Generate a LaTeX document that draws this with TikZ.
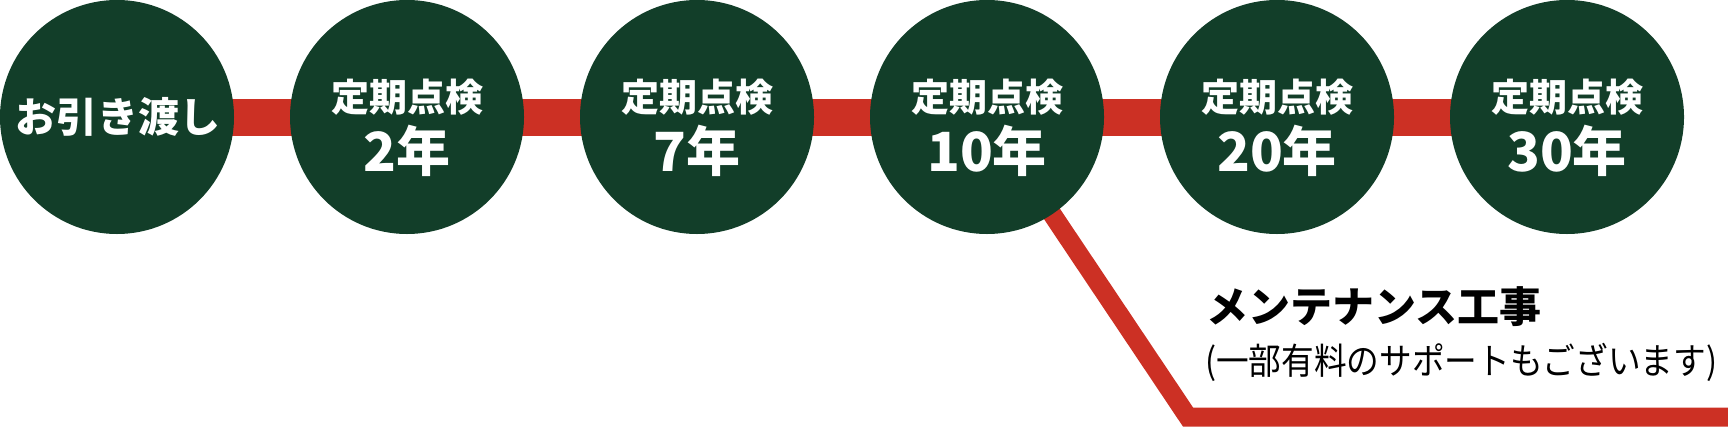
\documentclass[tikz,border=0pt]{standalone}
\usepackage{fontspec}
\setmainfont{Noto Sans CJK JP}
\newfontfamily\narrowjp[FakeStretch=0.9]{Noto Sans CJK JP}
\usetikzlibrary{backgrounds}

\definecolor{plate}{RGB}{18,62,41}
\definecolor{rail}{RGB}{204,48,36}

\tikzset{
    stop/.style={circle,fill=plate,inner sep=0pt,minimum size=234pt},
    head/.style={text=white,inner sep=0pt,font=\bfseries\fontsize{38}{40}\selectfont},
    year/.style={text=white,inner sep=0pt,font=\bfseries\fontsize{54}{58}\selectfont},
    note/.style={anchor=west,inner sep=0pt}
}

\begin{document}
\begin{tikzpicture}[x=1pt,y=-1pt]

\useasboundingbox (0,0) rectangle (1728,426);

% First stop: hand over.
\node[stop] (c0) at (117,117) {};
\node[head,font=\bfseries\fontsize{41}{44}\selectfont] (t0) at (118,117) {お引き渡し};

% Loop for each inspection stop.
\foreach \i/\x/\yr in {1/407/2,2/697/7,3/987/10,4/1277/20,5/1567/30} {

    % Draw each circle.
    \node[stop] (c\i) at (\x,117) {};

    % Two lines of text inside. End loop.
    \node[head] (h\i) at (\x,97) {定期点検};
    \node[year] (y\i) at (\x,151) {\yr 年};
}

% Rails go behind the circles.
\begin{pgfonlayer}{background}
    % main rail
    \draw[rail,line width=37pt]
        (c0.center) -- (c5.center);
    % branch off the 10 year stop
    \draw[rail,line width=19pt]
        (c3.center)
        -- (1188,417) coordinate (bend)
        -- (1740,417) coordinate (tail);
\end{pgfonlayer}

% Label for the branch.
\node[note,font=\bfseries\fontsize{42}{44}\selectfont] (work) at (1206,307) {メンテナンス工事};
\node[note,font=\narrowjp\fontsize{36.3}{38}\selectfont] (sub) at (1205,362) {(一部有料のサポートもございます)};

\end{tikzpicture}
\end{document}
